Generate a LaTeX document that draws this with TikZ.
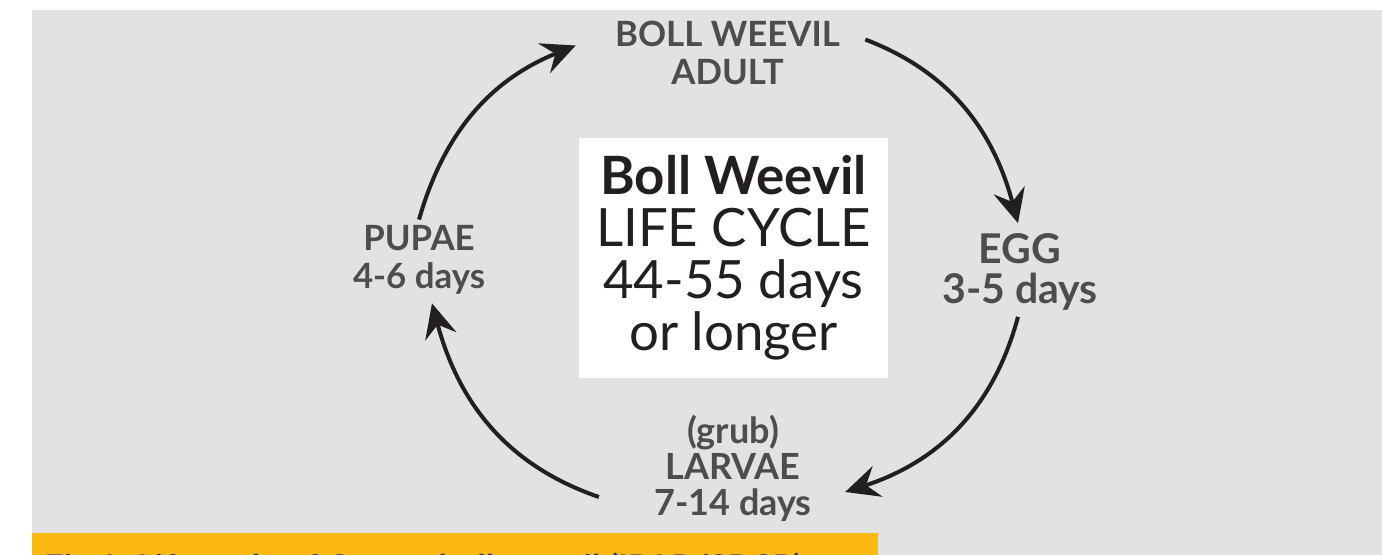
\documentclass[tikz,border=0pt]{standalone}
\usepackage{fontspec}
\setmainfont{Lato}
\usetikzlibrary{arrows.meta}
\definecolor{panel}{HTML}{E1E2E4}
\definecolor{ink}{HTML}{4D4D4F}
\definecolor{dark}{HTML}{231F20}
\definecolor{band}{HTML}{FDB913}
\definecolor{navy}{HTML}{283583}
\tikzset{turn/.style={-{Stealth[length=17pt,width=16pt,inset=6pt]},line width=2pt,dark},
stage/.style={text=ink,align=center,inner sep=0pt},
smallstage/.style={stage,font=\bfseries\fontsize{17.4}{19}\selectfont},
bigstage/.style={stage,font=\bfseries\fontsize{20.5}{20}\selectfont},
grubstage/.style={stage,font=\bfseries\fontsize{18}{18}\selectfont},
hub/.style={fill=white,text=dark,align=center,minimum width=154.5pt,minimum height=120pt,
  font=\fontsize{26.4}{26}\selectfont}}

\begin{document}
\begin{tikzpicture}[x=.5pt,y=.5pt]
\useasboundingbox (0,0) rectangle (1382,-555);
\clip (0,0) rectangle (1382,-555);
\fill[panel] (32,-10) rectangle (1382,-555);
\fill[band] (32,-533) rectangle (878,-555);
\node[anchor=base west,inner sep=0pt,text=navy,font=\bfseries\fontsize{17}{19}\selectfont] (caption) at (44,-580) {Fig 1. Life cycle of Cotton boll weevil (IPAR/SBCP)};
% centre box
\node[hub] (cycle) at (733.5,-258) {{\bfseries Boll Weevil}\\LIFE CYCLE\\44-55 days\\or longer};
% stages round the cycle
\node[smallstage] (adult) at (727.5,-52.5) {BOLL WEEVIL\\ADULT};
\node[bigstage] (egg) at (1020,-272) {EGG\\3-5 days};
\node[grubstage] (larvae) at (733,-468) {(grub)\\LARVAE\\7-14 days};
\node[smallstage] (pupae) at (419,-259.5) {PUPAE\\4-6 days};
% arrows
\draw[turn] ([shift={(0,5)}]pupae.north) to[out=74,in=202] ([shift={(-39,7)}]adult.west);
\draw[turn] ([shift={(25,13)}]adult.east) to[out=-21,in=105] ([shift={(-2,10)}]egg.north);
\draw[turn] ([shift={(-2,-6)}]egg.south) to[out=-105,in=18] ([shift={(33,-24)}]larvae.east);
\draw[turn] ([shift={(-55,-29)}]larvae.west) to[out=161,in=-75] ([shift={(13,-9)}]pupae.south);
\end{tikzpicture}
\end{document}
